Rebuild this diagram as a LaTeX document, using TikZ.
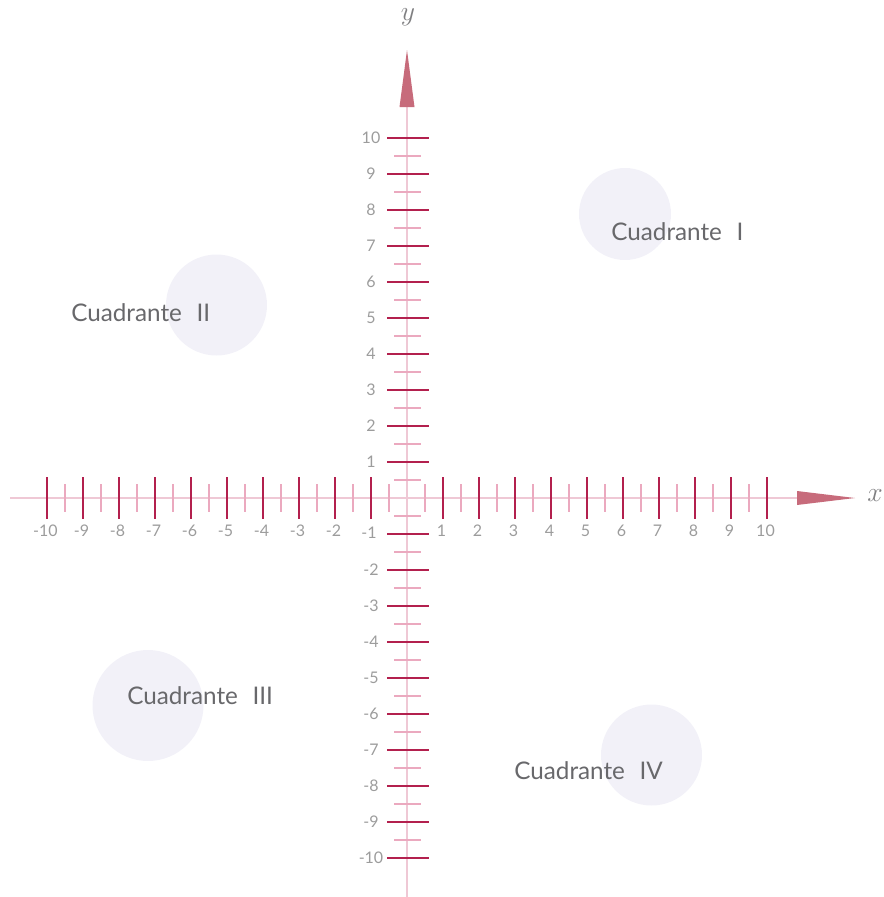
\documentclass[tikz,border=0pt]{standalone}
\usepackage{fontspec}
\setsansfont{Lato}
\definecolor{axiscol}{HTML}{EFC8D5}
\definecolor{majorcol}{HTML}{B3204E}
\definecolor{minorcol}{HTML}{EBA9BF}
\definecolor{arrowcol}{HTML}{C76B7B}
\definecolor{circcol}{HTML}{F2F1F8}
\definecolor{numcol}{HTML}{9C9C9C}
\definecolor{textcol}{HTML}{68686B}
\tikzset{
  axisline/.style={draw=axiscol, line width=1.3pt},
  majortick/.style={draw=majorcol, line width=2.1pt},
  minortick/.style={draw=minorcol, line width=1.4pt},
  arrowhead/.style={fill=arrowcol},
  bgcircle/.style={fill=circcol},
  numlabel/.style={font=\sffamily\fontsize{12}{14}\selectfont, text=numcol, inner sep=0pt},
  quadlabel/.style={font=\sffamily\fontsize{18.2}{22}\selectfont, text=textcol, inner sep=0pt, anchor=base west},
  axislabel/.style={font=\fontsize{20}{24}\selectfont, text=textcol!85, inner sep=0pt}
}
\begin{document}
\begin{tikzpicture}[x=0.75pt,y=-0.75pt]
\useasboundingbox (0,0) rectangle (883,897);
% background circles
\fill[bgcircle] (625,214) circle (46);
\fill[bgcircle] (216.5,305) circle (50.5);
\fill[bgcircle] (148,705.5) circle (55.5);
\fill[bgcircle] (651.5,755) circle (50.5);
% axes
\coordinate (O) at (407,498);
\coordinate (xstart) at (10,498);
\coordinate (xend) at (797,498);
\coordinate (xtip) at (855,498);
\coordinate (ystart) at (407,897);
\coordinate (yend) at (407,107);
\coordinate (ytip) at (407,50);
\draw[axisline] (xstart) -- (xend);
\draw[axisline] (ystart) -- (yend);
\fill[arrowhead] (797,491) -- (xtip) -- (797,505) -- cycle;
\fill[arrowhead] (399.5,107) -- (ytip) -- (414.5,107) -- cycle;
% minor ticks
\foreach \i in {-10,...,9} {
  \draw[minortick] ({407+36*\i+18},484) -- ({407+36*\i+18},512);
  \draw[minortick] (394,{498-36*\i-18}) -- (421,{498-36*\i-18});
}
% major ticks
\foreach \i in {-10,...,-1,1,2,...,10} {
  \draw[majortick] ({407+36*\i},477) -- ({407+36*\i},519);
  \draw[majortick] (387,{498-36*\i}) -- (429,{498-36*\i});
}
% tick labels (the -1 of both axes coincide)
\foreach \i in {-10,...,-2,1,2,...,10} {
  \node[numlabel] (xl\i) at ({407+36*\i-1.5},531) {\i};
  \node[numlabel] (yl\i) at (371,{498-36*\i}) {\i};
}
\node[numlabel] (xlm1) at (369,533) {-1};
% axis names
\node[axislabel] (xname) at (875,496) {$x$};
\node[axislabel] (yname) at (408,17) {$y$};
% quadrant labels
\node[quadlabel] (q1) at (611,240) {Cuadrante\hspace{0.6em}I};
\node[quadlabel] (q2) at (71,321) {Cuadrante\hspace{0.6em}II};
\node[quadlabel] (q3) at (127,704) {Cuadrante\hspace{0.6em}III};
\node[quadlabel] (q4) at (514,779) {Cuadrante\hspace{0.6em}IV};
\end{tikzpicture}
\end{document}
